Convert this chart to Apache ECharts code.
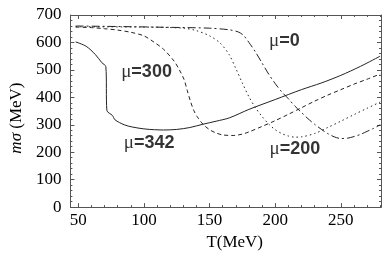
<!DOCTYPE html>
<html><head><meta charset="utf-8">
<script src="https://cdn.jsdelivr.net/npm/echarts@6/dist/echarts.min.js"></script>
<style>html,body{margin:0;padding:0;background:#fff}#c{width:382px;height:256px}</style>
</head><body><div id="c"></div>
<script>
// T (MeV) and m_sigma (MeV)
const t342 = [48, 56, 63, 68, 71, 71.8, 76, 78, 85, 91, 100, 108, 115, 125, 135, 145, 155, 165, 180, 200, 220, 235, 250, 265, 280];
const m342 = [602, 586, 556, 526, 512, 352, 334, 318, 300, 292, 285, 282, 281, 283, 290, 302, 313, 325, 356, 392, 428, 452, 480, 513, 550];
const t300 = [48, 60, 70, 80, 90, 100, 108, 115, 123, 127, 130.5, 133, 135.5, 138, 140.5, 145, 150, 155, 160, 168, 175, 180, 190, 200, 210, 220, 230, 240, 250, 260, 270, 280];
const m300 = [656, 654, 650, 645, 637, 624, 600, 575, 532, 500, 466, 425, 385, 352, 330, 302, 282, 270, 263, 261, 266, 274, 294, 315, 338, 362, 386, 408, 428, 448, 466, 485];
const t200 = [48, 100, 130, 140, 150, 158, 165, 170, 175, 180, 185, 190, 195, 200, 205, 210, 215, 220, 230, 240, 250, 260, 270, 280];
const m200 = [657, 656, 652, 643, 624, 598, 555, 505, 452, 402, 362, 330, 303, 282, 268, 259, 255, 256, 268, 290, 313, 337, 360, 383];
const t0 = [48, 80, 120, 150, 165, 172, 176, 180, 185, 190, 195, 200, 205, 210, 215, 220, 225, 230, 235, 240, 245, 250, 255, 260, 265, 270, 275, 280];
const m0 = [660, 658, 655, 652, 646, 638, 625, 600, 565, 525, 485, 450, 420, 395, 368, 345, 322, 302, 284, 268, 256, 250, 251, 257, 265, 276, 287, 300];
const xMajor = [50, 100, 150, 200, 250];
const xMinor = [50, 60, 70, 80, 90, 100, 110, 120, 130, 140, 150, 160, 170, 180, 190, 200, 210, 220, 230, 240, 250, 260, 270, 280];
const labelNames = ['300', '342', '0', '200'];
const labelT = [102, 104, 207, 215];
const labelM = [494, 235, 605, 210];

const zip = (a, b) => a.map((v, i) => [v, b[i]]);
const serif = '"Liberation Serif", "DejaVu Serif", serif';
const sans = '"Liberation Sans", Arial, sans-serif';
const frameColor = '#555';
const lineColor = '#222';

function xAx(pos, ticks, len, labels) {
  return {
    type: 'value', position: pos, min: 44, max: 280.6,
    axisLine: { show: true, lineStyle: { color: frameColor, width: 1 } },
    axisTick: { show: true, inside: true, length: len, customValues: ticks, lineStyle: { color: frameColor } },
    axisLabel: labels ? { show: true, customValues: xMajor, margin: 5, color: '#000', fontFamily: serif, fontSize: 17 } : { show: false },
    splitLine: { show: false }
  };
}
function yAx(pos, labels) {
  return {
    type: 'value', position: pos, min: 0, max: 700, interval: 100,
    axisLine: { show: true, lineStyle: { color: frameColor, width: 1 } },
    axisTick: { show: true, inside: true, length: 4, lineStyle: { color: frameColor } },
    minorTick: { show: true, splitNumber: 5, length: 2, lineStyle: { color: frameColor } },
    axisLabel: labels ? { show: true, margin: 9, color: '#000', fontFamily: serif, fontSize: 17 } : { show: false },
    splitLine: { show: false }
  };
}

const xAxes = [xAx('bottom', xMajor, 4, true), xAx('bottom', xMinor, 2, false), xAx('top', xMajor, 4, false), xAx('top', xMinor, 2, false)];
xAxes[0].name = 'T(MeV)';
xAxes[0].nameLocation = 'middle';
xAxes[0].nameGap = 24;
xAxes[0].nameTextStyle = { fontFamily: serif, fontSize: 17, color: '#000', padding: [0, 0, 0, 18] };
const yAxes = [yAx('left', true), yAx('right', false)];
yAxes[0].name = '{i|mσ} (MeV)';
yAxes[0].nameLocation = 'middle';
yAxes[0].nameGap = 33;
yAxes[0].nameTextStyle = { fontFamily: serif, fontSize: 17, color: '#000', padding: [0, 14, 0, 0],
  rich: { i: { fontFamily: serif, fontStyle: 'italic', fontSize: 17, color: '#000' } } };

function line(t, m, type) {
  return { type: 'line', data: zip(t, m), showSymbol: false, symbol: 'none', smooth: 0.3, xAxisIndex: 0, yAxisIndex: 0,
    lineStyle: { color: lineColor, width: 1, type: type }, silent: true, animation: false };
}

const chart = echarts.init(document.getElementById('c'), null, { renderer: 'canvas' });
chart.setOption({
  animation: false,
  grid: { left: 64, right: 1, top: 15, bottom: 46, containLabel: false },
  xAxis: xAxes,
  yAxis: yAxes,
  series: [
    line(t342, m342, 'solid'),
    line(t300, m300, [4, 3]),
    line(t200, m200, [1.5, 3]),
    line(t0, m0, [8, 3, 2, 3]),
    { type: 'scatter', symbolSize: 0, xAxisIndex: 0, yAxisIndex: 0, silent: true,
      data: labelNames.map((n, i) => ({ value: [labelT[i], labelM[i]], name: n })),
      label: { show: true, position: 'inside', formatter: p => '{mu|μ}{b|=' + p.name + '}',
        rich: { mu: { fontFamily: serif, fontSize: 19, color: '#000' }, b: { fontFamily: sans, fontWeight: 'bold', fontSize: 18, color: '#000' } } } }
  ]
});
</script></body></html>
